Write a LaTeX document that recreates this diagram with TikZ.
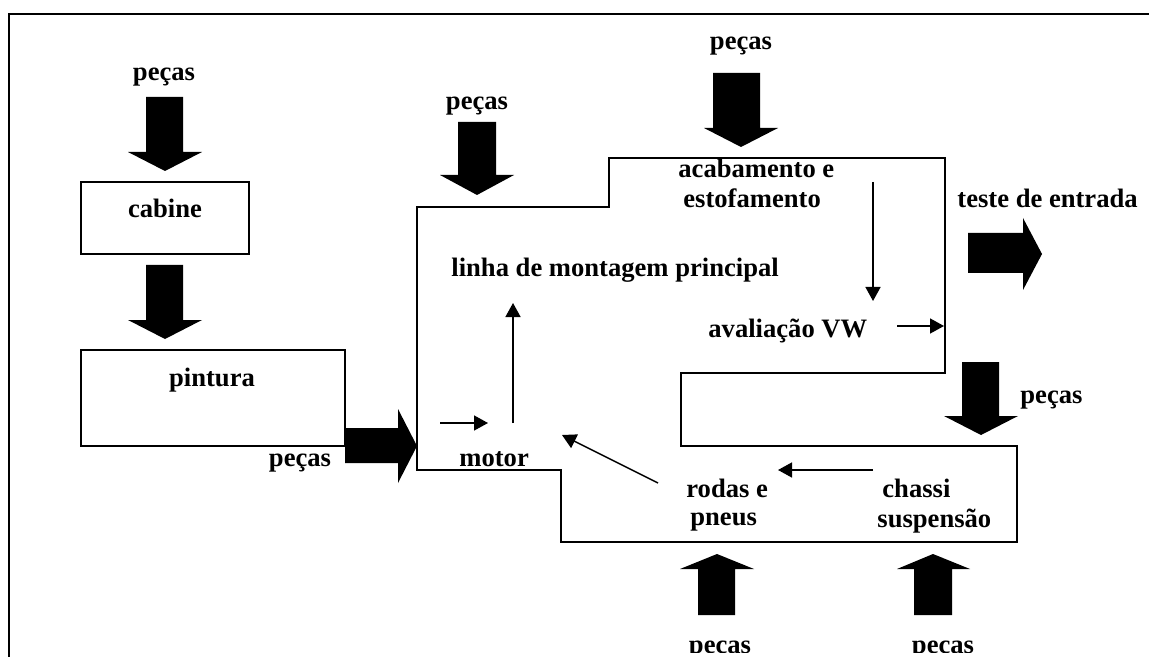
\documentclass[tikz,border=0pt]{standalone}
\usepackage{fontspec}
\setmainfont{Liberation Serif}
\usetikzlibrary{arrows.meta}
\begin{document}
\begin{tikzpicture}[x=0.5pt,y=-0.5pt,
  lbl/.style={inner sep=0pt,font=\fontsize{13.3}{15}\selectfont\bfseries},
  frame/.style={line width=1pt},
  thinarrow/.style={line width=0.75pt,-{Triangle[length=7pt,width=7.5pt]}},
  blk/.style={fill=black}]
\useasboundingbox (0,0) rectangle (1149,657);
\clip (0,0) rectangle (1149,657);
% outer frame (cropped)
\draw[frame] (9,657) -- (9,14) -- (1149,14);

% boxes
\draw[frame] (81,182) rectangle (249,254);
\draw[frame] (81,350) rectangle (345,446);
\draw[frame] (417,207) -- (609,207) -- (609,158) -- (945,158) -- (945,373)
  -- (681,373) -- (681,446) -- (1017,446) -- (1017,542) -- (561,542)
  -- (561,470) -- (417,470) -- cycle;

% block arrows
\fill[blk] (146,97) -- (183,97) -- (183,152) -- (202,152) -- (165,171) -- (128,152) -- (146,152) -- cycle;
\fill[blk] (146,265) -- (183,265) -- (183,320) -- (202,320) -- (165,339) -- (128,320) -- (146,320) -- cycle;
\fill[blk] (345,428) -- (398,428) -- (398,409) -- (417,446) -- (398,483) -- (398,463) -- (345,463) -- cycle;
\fill[blk] (458,122) -- (496,122) -- (496,175) -- (514,175) -- (477,195) -- (440,175) -- (458,175) -- cycle;
\fill[blk] (713,73) -- (760,73) -- (760,128) -- (778,128) -- (741,147) -- (704,128) -- (713,128) -- cycle;
\fill[blk] (968,233) -- (1023,233) -- (1023,218) -- (1042,254) -- (1023,290) -- (1023,273) -- (968,273) -- cycle;
\fill[blk] (962,362) -- (999,362) -- (999,416) -- (1018,416) -- (981,435) -- (944,416) -- (962,416) -- cycle;
\fill[blk] (698,615) -- (735,615) -- (735,569) -- (754,569) -- (717,554) -- (680,569) -- (698,569) -- cycle;
\fill[blk] (914,615) -- (952,615) -- (952,569) -- (970,569) -- (933,554) -- (897,569) -- (914,569) -- cycle;

% labels
\node[lbl,anchor=base] (p1) at (164,81) {peças};
\node[lbl,anchor=base] (cab) at (165,218) {cabine};
\node[lbl,anchor=base] (pin) at (212,386) {pintura};
\node[lbl,anchor=base] (p2) at (300,466) {peças};
\node[lbl,anchor=base] (p3) at (477,110) {peças};
\node[lbl,anchor=base] (p4) at (741,50) {peças};
\node[lbl,anchor=base west] (acab1) at (678,178) {acabamento e};
\node[lbl,anchor=base west] (acab2) at (683,208) {estofamento};
\node[lbl,anchor=base west] (teste) at (957,208) {teste de entrada};
\node[lbl,anchor=base west] (linha) at (451,277) {linha de montagem principal};
\node[lbl,anchor=base west] (aval) at (708,337) {avaliação VW};
\node[lbl,anchor=base west] (p5) at (1020,403) {peças};
\node[lbl,anchor=base west] (motor) at (459,466) {motor};
\node[lbl,anchor=base west] (rodas1) at (686,497) {rodas e};
\node[lbl,anchor=base west] (rodas2) at (690,525) {pneus};
\node[lbl,anchor=base west] (chassi1) at (882,497) {chassi};
\node[lbl,anchor=base west] (chassi2) at (877,527) {suspensão};
\begin{scope}
\clip (0,0) rectangle (1149,652);
\node[lbl,anchor=base] (p6) at (720,653) {peças};
\node[lbl,anchor=base] (p7) at (943,653) {peças};
\end{scope}

% thin arrows
\coordinate (d1) at (873,182); \coordinate (d2) at (873,301);
\coordinate (v1) at (897,326); \coordinate (v2) at (944,326);
\coordinate (m1) at (440,423); \coordinate (m2) at (488,423);
\coordinate (u1) at (513,423); \coordinate (u2) at (513,303);
\coordinate (r1) at (658,483); \coordinate (r2) at (562,435);
\coordinate (c1) at (873,470); \coordinate (c2) at (778,470);
\draw[thinarrow] (d1) -- (d2);
\draw[thinarrow] (v1) -- (v2);
\draw[thinarrow] (m1) -- (m2);
\draw[thinarrow] (u1) -- (u2);
\draw[thinarrow] (r1) -- (r2);
\draw[thinarrow] (c1) -- (c2);
\end{tikzpicture}
\end{document}
